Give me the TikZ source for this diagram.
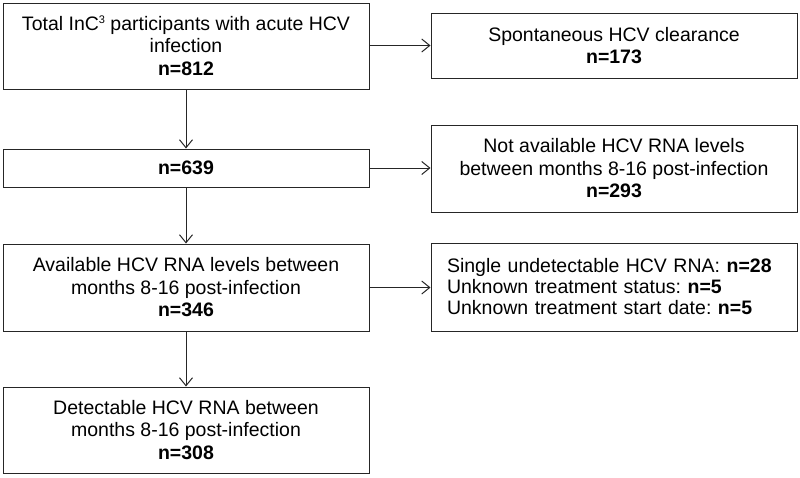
\documentclass[tikz,border=0pt]{standalone}
\usepackage{fontspec}
\setmainfont{Liberation Sans}
\usetikzlibrary{arrows.meta}
\begin{document}
\frenchspacing
\begin{tikzpicture}[x=1pt,y=-1pt,
  box/.style={draw=black!85, line width=1pt, minimum width=366pt, align=center, inner sep=0pt,
    font=\fontsize{19.5}{22.5}\selectfont},
  conn/.style={draw=black!85, line width=1pt, -{Straight Barb[length=8pt,width=13pt,line width=1pt]}}]
\fill[white] (0,0) rectangle (800,477);
\useasboundingbox (0,0) rectangle (800,477);
% left column
\node[box, minimum height=86pt] (total) at (186,46)
  {Total InC\raisebox{6.5pt}{\fontsize{11}{11}\selectfont 3} participants with acute HCV\\infection\\\textbf{n=812}};
\node[box, minimum height=38pt] (n639) at (186,168) {\textbf{n=639}};
\node[box, minimum height=87pt] (avail) at (186,287.5)
  {Available HCV RNA levels between\\months 8-16 post-infection\\\textbf{n=346}};
\node[box, minimum height=86pt] (detect) at (186,430)
  {Detectable HCV RNA between\\months 8-16 post-infection\\\textbf{n=308}};
% right column
\node[box, minimum height=65pt] (spont) at (614,45.5)
  {Spontaneous HCV clearance\\\textbf{n=173}};
\node[box, minimum height=87pt] (notavail) at (614,168.5)
  {Not available HCV RNA levels\\between months 8-16 post-infection\\\textbf{n=293}};
\node[box, minimum height=88pt, text width=334pt, align=left, font=\fontsize{19.5}{21}\selectfont] (excl) at (614,287)
  {\raisebox{8pt}{\parbox{334pt}{\frenchspacing Single undetectable HCV RNA: \textbf{n=28}\\Unknown treatment status: \textbf{n=5}\\Unknown treatment start date: \textbf{n=5}}}};
% connectors
\draw[conn] (total.east |- spont.west) -- (spont.west);
\draw[conn] (total) -- (n639);
\draw[conn] (n639) -- (avail);
\draw[conn] (avail) -- (detect);
\draw[conn] (n639) -- (n639 -| notavail.west);
\draw[conn] (avail) -- (avail -| excl.west);
\end{tikzpicture}
\end{document}
